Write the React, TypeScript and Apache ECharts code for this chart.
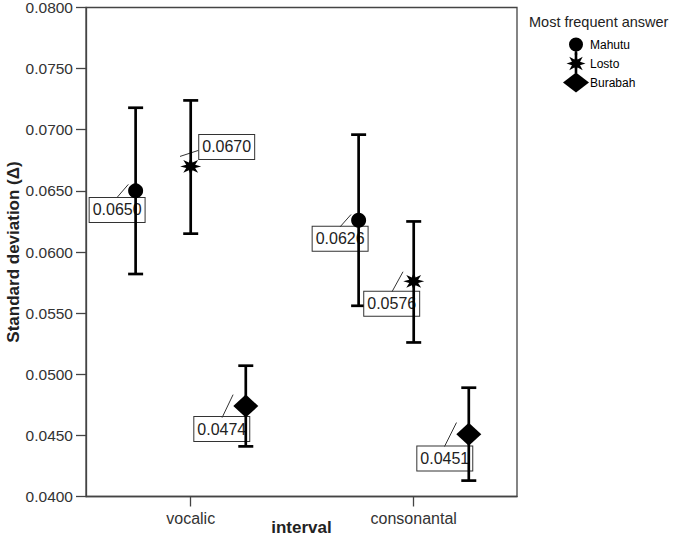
import React, { useEffect, useRef } from 'react';
import * as echarts from 'echarts';

// ---- data ----
const categories = ['vocalic', 'consonantal'];
const categoryPositions = [1, 2];
const groups = ['Mahutu', 'Losto', 'Burabah'];
const groupOffsets = [-0.247, 0, 0.247];

const meanMahutu = [0.065, 0.0626];
const meanLosto = [0.067, 0.0576];
const meanBurabah = [0.0474, 0.0451];

const lowerMahutu = [0.0582, 0.0556];
const lowerLosto = [0.0615, 0.0526];
const lowerBurabah = [0.0441, 0.0413];

const upperMahutu = [0.0718, 0.0696];
const upperLosto = [0.0724, 0.0625];
const upperBurabah = [0.0507, 0.0489];

const yMin = 0.04;
const yMax = 0.08;
const yInterval = 0.005;

// ---- layout / style (pixel offsets relative to each marker) ----
const labelOffsets = [
  [[-18.5, 19], [-18.5, 18.5]],
  [[36, -19.5], [-22, 22.4]],
  [[-24, 23], [-24, 24.4]],
];
const leaderOffsets = [
  [[-18.5, 6.5, -7.3, -6.5], [-18.6, 6.7, -7.6, -5.7]],
  [[-10.7, -10, 7.6, -16], [-21.7, 10.4, -10.7, -9.6]],
  [[-23.7, 11.6, -12.7, -11.4], [-24.3, 12.4, -12.3, -11.6]],
];

const FONT = '"Liberation Sans", Arial, Helvetica, sans-serif';

function starPath(cx: number, cy: number, R: number, r: number, n: number) {
  let d = '';
  for (let k = 0; k < 2 * n; k++) {
    const a = -Math.PI / 2 + (k * Math.PI) / n;
    const rad = k % 2 === 0 ? R : r;
    d += (k === 0 ? 'M' : 'L') + (cx + rad * Math.cos(a)).toFixed(2) + ' ' + (cy + rad * Math.sin(a)).toFixed(2);
  }
  return d + 'Z';
}

const starSymbol = 'path://' + starPath(10, 10, 10, 4.6, 8);

const legendIcons = [
  'path://M0 0M26 20M11.7 10H14.3V20H11.7Z M6 10A7 7 0 1 1 20 10A7 7 0 1 1 6 10Z',
  'path://M0 0M26 20M11.7 0H14.3V20H11.7Z ' + starPath(13, 10, 9.5, 4.4, 8),
  'path://M0 10L13 0L26 10L13 20Z',
];

const meansAll = [meanMahutu, meanLosto, meanBurabah];
const lowersAll = [lowerMahutu, lowerLosto, lowerBurabah];
const uppersAll = [upperMahutu, upperLosto, upperBurabah];
const symbols = ['circle', starSymbol, 'diamond'];
const symbolSizes: any[] = [15, [21, 18], [25, 23]];

export default function App() {
  const ref = useRef<HTMLDivElement>(null);

  useEffect(() => {
    if (!ref.current) return;
    const chart = echarts.init(ref.current, undefined, { renderer: 'svg' });

    const series: any[] = [];
    groups.forEach((g, gi) => {
      const data = categories.map((_, ci) => [
        categoryPositions[ci] + groupOffsets[gi],
        meansAll[gi][ci],
        lowersAll[gi][ci],
        uppersAll[gi][ci],
      ]);
      series.push({
        type: 'custom',
        name: g,
        z: 3,
        data,
        encode: { x: 0, y: 1 },
        renderItem: (params: any, api: any) => {
          const ci = params.dataIndex;
          const xv = api.value(0);
          const m = api.value(1);
          const p = api.coord([xv, m]);
          const pl = api.coord([xv, api.value(2)]);
          const ph = api.coord([xv, api.value(3)]);
          const lo = labelOffsets[gi][ci];
          const ld = leaderOffsets[gi][ci];
          const cap = 7.5;
          const lineStyle = { stroke: '#000', lineWidth: 2.7 };
          return {
            type: 'group',
            children: [
              {
                type: 'text',
                x: p[0] + lo[0],
                y: p[1] + lo[1],
                style: {
                  text: m.toFixed(4),
                  fontSize: 16,
                  fontFamily: FONT,
                  fill: '#222',
                  align: 'center',
                  verticalAlign: 'middle',
                  lineHeight: 18,
                  backgroundColor: '#fff',
                  borderColor: '#333',
                  borderWidth: 1,
                  padding: [3, 3, 3, 3],
                },
              },
              {
                type: 'line',
                shape: { x1: p[0] + ld[0], y1: p[1] + ld[1], x2: p[0] + ld[2], y2: p[1] + ld[3] },
                style: { stroke: '#333', lineWidth: 1 },
              },
              { type: 'line', shape: { x1: p[0], y1: ph[1], x2: p[0], y2: pl[1] }, style: lineStyle },
              { type: 'line', shape: { x1: p[0] - cap, y1: ph[1], x2: p[0] + cap, y2: ph[1] }, style: lineStyle },
              { type: 'line', shape: { x1: p[0] - cap, y1: pl[1], x2: p[0] + cap, y2: pl[1] }, style: lineStyle },
            ],
          };
        },
      });
      series.push({
        type: 'scatter',
        name: g,
        z: 4,
        symbol: symbols[gi],
        symbolSize: symbolSizes[gi],
        itemStyle: { color: '#000', opacity: 1 },
        data: data.map((d) => [d[0], d[1]]),
      });
    });

    const axisColor = '#444';
    chart.setOption({
      animation: false,
      backgroundColor: '#fff',
      title: {
        text: 'Most frequent answer',
        left: 529,
        top: 14,
        padding: 0,
        textStyle: { fontSize: 14.5, fontWeight: 'normal', color: '#222', fontFamily: FONT },
      },
      legend: {
        orient: 'vertical',
        left: 563,
        top: 34.5,
        padding: 0,
        itemWidth: 26,
        itemHeight: 20,
        itemGap: -1,
        selectedMode: false,
        textStyle: { fontSize: 12, color: '#000', fontFamily: FONT, padding: [0, 0, 0, -4] },
        data: groups.map((g, gi) => ({
          name: g,
          icon: legendIcons[gi],
          itemStyle: { color: '#000', borderWidth: 0 },
        })),
      },
      grid: {
        left: 86,
        right: 163,
        top: 7.5,
        bottom: 42.5,
        show: true,
        containLabel: false,
        outerBoundsMode: 'none',
        borderColor: axisColor,
        borderWidth: 1.3,
        backgroundColor: 'transparent',
      },
      xAxis: {
        type: 'value',
        min: 0.5305,
        max: 2.4632,
        name: 'interval',
        nameLocation: 'middle',
        nameGap: 22,
        nameMoveOverlap: false,
        nameTextStyle: { fontSize: 17, fontWeight: 'bold', color: '#222', fontFamily: FONT },
        axisLine: { show: true, lineStyle: { color: axisColor, width: 1.3 } },
        axisTick: { show: true, length: 10, customValues: categoryPositions, lineStyle: { color: axisColor, width: 1.3 } },
        axisLabel: {
          customValues: categoryPositions,
          formatter: (v: number) => categories[categoryPositions.indexOf(Math.round(v))] ?? '',
          fontSize: 16,
          color: '#333',
          fontFamily: FONT,
          margin: 14,
        },
        splitLine: { show: false },
      },
      yAxis: {
        type: 'value',
        min: yMin,
        max: yMax,
        interval: yInterval,
        name: 'Standard deviation (Δ)',
        nameLocation: 'middle',
        nameGap: 64,
        nameMoveOverlap: false,
        nameTextStyle: { fontSize: 17, fontWeight: 'bold', color: '#222', fontFamily: FONT },
        axisLine: { show: true, lineStyle: { color: axisColor, width: 1.3 } },
        axisTick: { show: true, length: 10, lineStyle: { color: axisColor, width: 1.3 } },
        axisLabel: {
          formatter: (v: number) => v.toFixed(4),
          fontSize: 15.5,
          color: '#333',
          fontFamily: FONT,
          margin: 13,
        },
        splitLine: { show: false },
      },
      series,
    });

    return () => chart.dispose();
  }, []);

  return (
    <div
      ref={ref}
      style={{ position: 'absolute', left: 0, top: 0, width: 680, height: 539, background: '#fff' }}
    />
  );
}
